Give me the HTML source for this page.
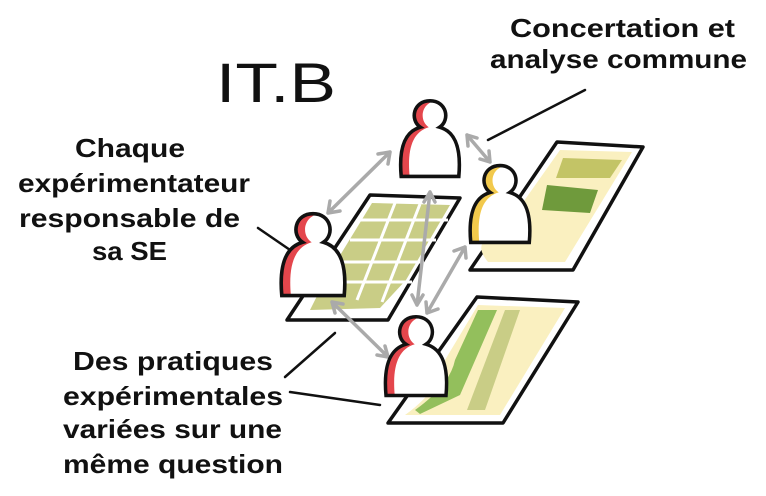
<!DOCTYPE html>
<html><head><meta charset="utf-8"><style>
html,body{margin:0;padding:0;background:#fff}
svg{display:block}
text{font-family:"Liberation Sans",sans-serif;font-weight:bold;fill:#111}
</style></head><body>
<svg width="766" height="496" viewBox="0 0 766 496" xmlns="http://www.w3.org/2000/svg">
<defs>
<path id="p" d="M -24 2 C -26 -20 -22 -35 -8 -39 C -17 -45 -14 -61 0 -61 C 14 -61 17 -45 8 -39 C 22 -35 26 -20 24 2 Z"/>
<clipPath id="c"><use href="#p"/></clipPath>
</defs>
<!-- IT.B -->
<text x="216" y="102" font-size="56" style="font-weight:normal" textLength="120" lengthAdjust="spacingAndGlyphs">IT.B</text>

<!-- labels -->
<g font-size="26" lengthAdjust="spacingAndGlyphs">
<text x="510" y="37" textLength="225" lengthAdjust="spacingAndGlyphs">Concertation et</text>
<text x="490" y="68" textLength="257" lengthAdjust="spacingAndGlyphs">analyse commune</text>
<text x="75" y="157" textLength="110" lengthAdjust="spacingAndGlyphs">Chaque</text>
<text x="18" y="192" textLength="232" lengthAdjust="spacingAndGlyphs">expérimentateur</text>
<text x="19" y="227" textLength="221" lengthAdjust="spacingAndGlyphs">responsable de</text>
<text x="92" y="260" textLength="75" lengthAdjust="spacingAndGlyphs">sa SE</text>
<text x="73" y="370" textLength="200" lengthAdjust="spacingAndGlyphs">Des pratiques</text>
<text x="63" y="405" textLength="220" lengthAdjust="spacingAndGlyphs">expérimentales</text>
<text x="63" y="438" textLength="219" lengthAdjust="spacingAndGlyphs">variées sur une</text>
<text x="63" y="473" textLength="220" lengthAdjust="spacingAndGlyphs">même question</text>
</g>

<!-- leader lines -->
<g stroke="#111" stroke-width="2.5" fill="none" stroke-linecap="round">
<path d="M488 140 L585 90"/>
<path d="M258 228 L293 252"/>
<path d="M285 377 L335 333"/>
<path d="M290 392 L380 405"/>
</g>

<!-- sheets -->
<g stroke="#111" stroke-width="3.5" stroke-linejoin="round">
<path d="M370 195 L460 198 L388 320 L287 320 Z" fill="#fff"/>
<path d="M557 142 L643 147 L573 270 L470 270 Z" fill="#fff"/>
<path d="M477 297 L578 302 L503 423 L388 423 Z" fill="#fff"/>
</g>
<g fill="#c9cd86">
<path d="M372 203 L450 205 L406 280 L325 280 Z"/>
<path d="M325 280 L406 280 L380 308 L310 310 Z"/>
</g>
<g stroke="#fff" stroke-width="3">
<path d="M395 203 L357 300 M420 204 L382 302 M360 220 L448 220 M350 240 L436 240 M338 262 L424 262 M325 282 L412 282"/>
</g>
<path d="M560 150 L632 152 L565 262 L488 262 Q470 240 500 235 Z" fill="#faf0c0"/>
<path d="M563 158 L622 160 L610 178 L556 178 Z" fill="#c3c466"/>
<path d="M547 185 L598 190 L590 213 L542 210 Z" fill="#6f9a3c"/>
<path d="M478 305 L565 308 L500 415 L405 415 Q440 390 445 360 Z" fill="#faf0c0"/>
<path d="M478 310 L497 310 L460 395 L420 414 L415 410 Q450 385 455 360 Z" fill="#93bf5c"/>
<path d="M505 310 L520 310 L485 410 L467 410 Z" fill="#c9cd86"/>

<!-- arrows -->
<g stroke="#aaa" stroke-width="3.5" fill="none" stroke-linecap="round" stroke-linejoin="round">
<path d="M390 152 L328 213 M390 152 l-12 2 M390 152 l-2 12 M328 213 l12 -2 M328 213 l2 -12"/>
<path d="M467 135 L490 162 M467 135 l1 11 M467 135 l10 3 M490 162 l-1 -11 M490 162 l-10 -3"/>
<path d="M430 192 L417 305 M430 192 l-6 10 M430 192 l5 10 M417 305 l-5 -10 M417 305 l6 -10"/>
<path d="M465 247 L427 313 M465 247 l-11 4 M465 247 l1 11 M427 313 l11 -4 M427 313 l-1 -11"/>
<path d="M332 302 L388 357 M332 302 l3 11 M332 302 l11 2 M388 357 l-3 -11 M388 357 l-11 -2"/>
</g>

<!-- persons -->
<g transform="translate(430,174) scale(1.2)">
<use href="#p" fill="#e4464c"/><g clip-path="url(#c)"><use href="#p" fill="#fff" transform="translate(7,0)"/></g>
<use href="#p" fill="none" stroke="#111" stroke-width="3"/></g>
<g transform="translate(313,293) scale(1.3)">
<use href="#p" fill="#e4464c"/><g clip-path="url(#c)"><use href="#p" fill="#fff" transform="translate(7,0)"/></g>
<use href="#p" fill="none" stroke="#111" stroke-width="2.8"/></g>
<g transform="translate(500,240) scale(1.22)">
<use href="#p" fill="#f2c94c"/><g clip-path="url(#c)"><use href="#p" fill="#fff" transform="translate(7,0)"/></g>
<use href="#p" fill="none" stroke="#111" stroke-width="2.9"/></g>
<g transform="translate(416,393) scale(1.25)">
<use href="#p" fill="#e4464c"/><g clip-path="url(#c)"><use href="#p" fill="#fff" transform="translate(7,0)"/></g>
<use href="#p" fill="none" stroke="#111" stroke-width="2.8"/></g>
</svg>
</body></html>
